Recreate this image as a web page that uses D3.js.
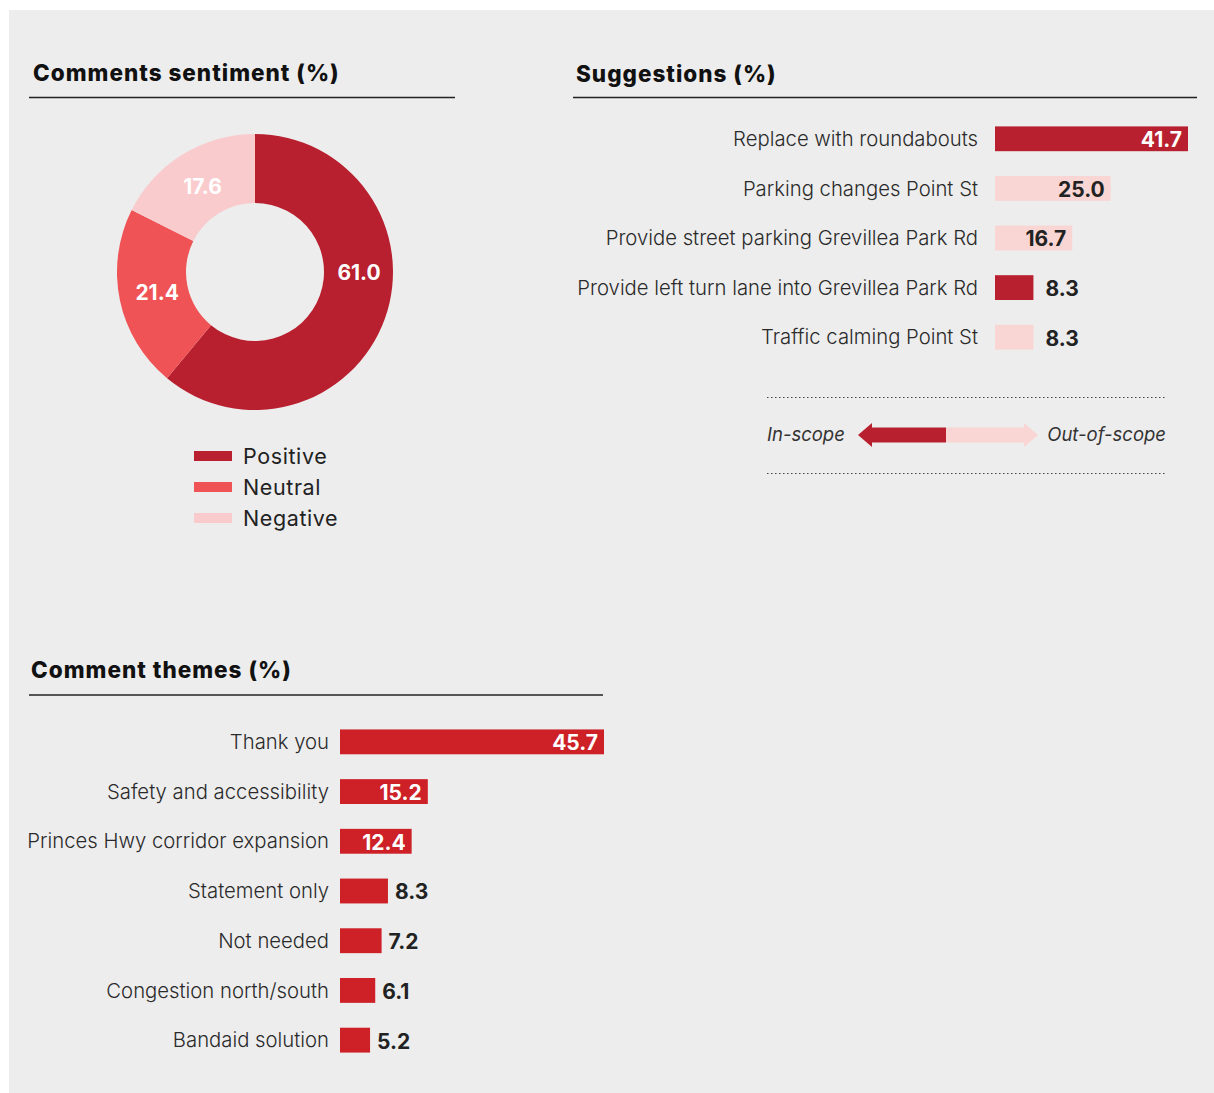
<!DOCTYPE html>
<html>
<head>
<meta charset="utf-8">
<script src="https://cdn.jsdelivr.net/npm/d3@7"></script>
<style>
  body { margin: 0; background: #fff; }
  svg { display: block; }
  .title { font-family: "Inter", "Lato", sans-serif; font-weight: 800; font-size: 22.5px; fill: #111; letter-spacing: 1px; }
  .cat { font-family: "Inter", "Lato", sans-serif; font-weight: 300; font-size: 20.3px; fill: #2a2a2a; }
  .val { font-family: "Inter", "Lato", sans-serif; font-weight: 700; font-size: 21px; }
</style>
</head>
<body>
<svg id="chart" width="1214" height="1093"></svg>
<script>
// sentiment donut
const sentimentLabels = ["Positive", "Neutral", "Negative"];
const sentimentValues = [61.0, 21.4, 17.6];
const sentimentColors = ["#b8202f", "#f05355", "#f9cbcd"];

// suggestions
const suggestionLabels = ["Replace with roundabouts", "Parking changes Point St", "Provide street parking Grevillea Park Rd", "Provide left turn lane into Grevillea Park Rd", "Traffic calming Point St"];
const suggestionValues = [41.7, 25.0, 16.7, 8.3, 8.3];
const suggestionScope = ["in", "out", "out", "in", "out"];

// comment themes
const themeLabels = ["Thank you", "Safety and accessibility", "Princes Hwy corridor expansion", "Statement only", "Not needed", "Congestion north/south", "Bandaid solution"];
const themeValues = [45.7, 15.2, 12.4, 8.3, 7.2, 6.1, 5.2];

const darkRed = "#b8202f";
const lightPink = "#f9d5d3";
const themeRed = "#cd2027";

const svg = d3.select("#chart");

svg.append("rect")
  .attr("x", 9).attr("y", 10)
  .attr("width", 1205).attr("height", 1083)
  .attr("fill", "#ededed");

//Section titles with underline
function sectionTitle(text, x, y, x1, x2, ly) {
  svg.append("text").attr("class", "title").attr("x", x).attr("y", y).text(text);
  svg.append("line")
    .attr("x1", x1).attr("x2", x2).attr("y1", ly).attr("y2", ly)
    .attr("stroke", "#222").attr("stroke-width", 1.3);
}
sectionTitle("Comments sentiment (%)", 33, 81, 29, 455, 97.5);
sectionTitle("Suggestions (%)", 576, 82, 573, 1197, 97.5);
sectionTitle("Comment themes (%)", 31, 678, 29, 603, 695);

//Donut
const donutData = sentimentLabels.map((l, i) => ({ label: l, value: sentimentValues[i], color: sentimentColors[i] }));
const pie = d3.pie().value(d => d.value).sort(null);
const arc = d3.arc().innerRadius(69).outerRadius(138);

const donut = svg.append("g").attr("transform", "translate(255,272)");
donut.selectAll("path")
  .data(pie(donutData))
  .enter()
  .append("path")
  .attr("d", arc)
  .attr("fill", d => d.data.color);

// label sits mid-ring; the big first slice keeps its label level with the centre
donut.selectAll("text")
  .data(pie(donutData))
  .enter()
  .append("text")
  .attr("class", "val")
  .attr("transform", d => {
    const mid = (d.startAngle + d.endAngle) / 2;
    const a = d.index === 0 ? Math.min(mid, Math.PI / 2) : mid;
    const r = d.index === 0 ? 104 : 100;
    return `translate(${r * Math.sin(a)},${-r * Math.cos(a)})`;
  })
  .attr("text-anchor", "middle")
  .attr("dy", "0.36em")
  .attr("fill", "#fff")
  .text(d => d.data.value.toFixed(1));

//Legend
const legend = svg.append("g");
donutData.forEach((d, i) => {
  const y = 456 + i * 31;
  legend.append("rect").attr("x", 194).attr("y", y - 5).attr("width", 38).attr("height", 10).attr("fill", d.color);
  legend.append("text")
    .attr("x", 243).attr("y", y).attr("dy", "0.35em")
    .attr("font-family", "Inter, Lato, sans-serif").attr("font-size", "21.5px")
    .attr("letter-spacing", "0.6px")
    .attr("fill", "#222")
    .text(d.label);
});

//Horizontal bar chart helper
function barChart(opts) {
  const x = d3.scaleLinear().domain([0, opts.max]).range([opts.x0, opts.x1]);
  const y = d3.scaleBand().domain(opts.labels).range([opts.y0, opts.y1]).paddingInner(0.5).paddingOuter(0.25);
  const g = svg.append("g");

  opts.labels.forEach((label, i) => {
    const v = opts.values[i];
    const fill = opts.color(i);
    const dark = fill !== lightPink;
    const yc = y(label) + y.bandwidth() / 2;
    const w = x(v) - x(0);

    g.append("rect")
      .attr("x", x(0)).attr("y", y(label))
      .attr("width", w).attr("height", y.bandwidth())
      .attr("fill", fill);

    g.append("text")
      .attr("class", "cat")
      .attr("x", x(0) - opts.labelGap).attr("y", yc).attr("dy", "0.35em")
      .attr("text-anchor", "end")
      .text(label);

    const inside = w > 60;
    g.append("text")
      .attr("class", "val")
      .attr("x", inside ? x(v) - 6 : x(v) + opts.valueGap)
      .attr("y", yc).attr("dy", "0.4em")
      .attr("text-anchor", inside ? "end" : "start")
      .attr("fill", inside && dark ? "#fff" : "#222")
      .text(v.toFixed(1));
  });
}

barChart({
  labels: suggestionLabels, values: suggestionValues, max: 41.7,
  x0: 995, x1: 1188, y0: 114, y1: 362, labelGap: 17, valueGap: 12,
  color: i => suggestionScope[i] === "in" ? darkRed : lightPink
});

barChart({
  labels: themeLabels, values: themeValues, max: 45.7,
  x0: 340, x1: 604, y0: 717, y1: 1065, labelGap: 11, valueGap: 7,
  color: () => themeRed
});

//Scope key with dotted lines and arrow
[397.5, 473.5].forEach(ly => {
  svg.append("line")
    .attr("x1", 767).attr("x2", 1166).attr("y1", ly).attr("y2", ly)
    .attr("stroke", "#444").attr("stroke-width", 1.2)
    .attr("stroke-dasharray", "1.5,2.5");
});

const ay = 435;
svg.append("path")
  .attr("d", `M858,${ay} L872,${ay - 12} L872,${ay - 7.5} L946,${ay - 7.5} L946,${ay + 7.5} L872,${ay + 7.5} L872,${ay + 12} Z`)
  .attr("fill", darkRed);
svg.append("path")
  .attr("d", `M1038,${ay} L1024,${ay - 12} L1024,${ay - 7.5} L946,${ay - 7.5} L946,${ay + 7.5} L1024,${ay + 7.5} L1024,${ay + 12} Z`)
  .attr("fill", lightPink);

svg.append("text")
  .attr("x", 767).attr("y", ay).attr("dy", "0.35em")
  .attr("font-family", "Inter, Lato, sans-serif").attr("font-style", "italic").attr("font-size", "18.5px")
  .attr("fill", "#333")
  .text("In-scope");
svg.append("text")
  .attr("x", 1166).attr("y", ay).attr("dy", "0.35em")
  .attr("text-anchor", "end")
  .attr("font-family", "Inter, Lato, sans-serif").attr("font-style", "italic").attr("font-size", "18.5px")
  .attr("fill", "#333")
  .text("Out-of-scope");
</script>
</body>
</html>
